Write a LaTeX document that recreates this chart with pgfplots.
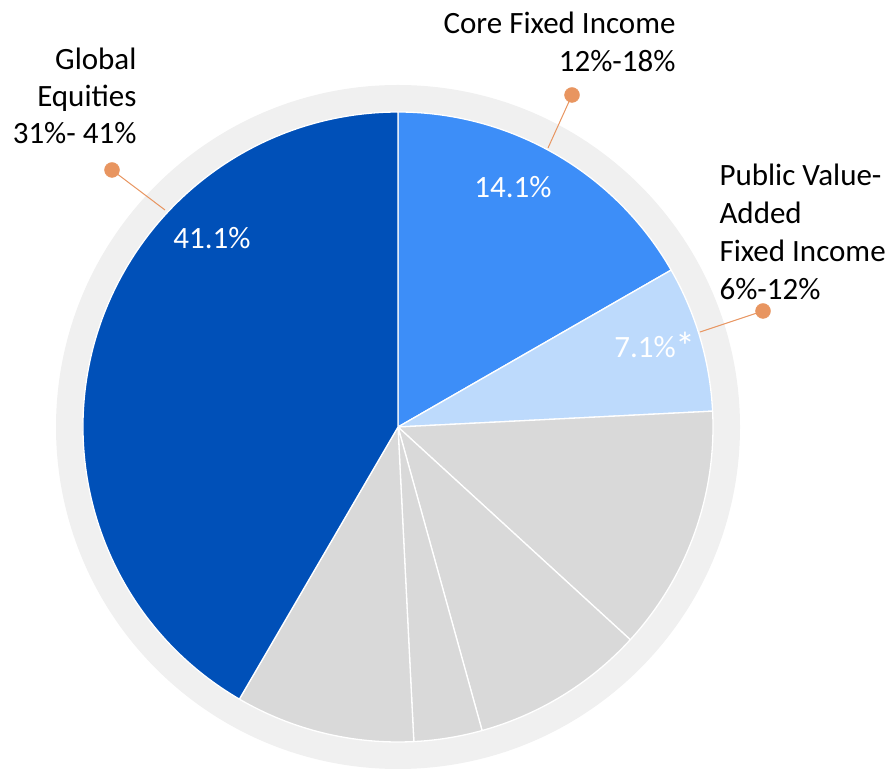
\documentclass[border=0pt]{standalone}
\usepackage{pgfplots}
\pgfplotsset{compat=1.18}
\usepackage{fontspec}
\setmainfont{Carlito}
\definecolor{darkblue}{RGB}{0,80,184}
\definecolor{coreblue}{RGB}{61,142,248}
\definecolor{paleblue}{RGB}{189,218,252}
\definecolor{slicegrey}{RGB}{217,217,217}
\definecolor{ringgrey}{RGB}{240,240,240}
\definecolor{leader}{RGB}{232,149,96}
\begin{document}
\begin{tikzpicture}
\begin{axis}[
  x=1pt, y=1pt,
  xmin=0, xmax=888, ymin=0, ymax=770,
  hide axis, clip=false,
]
% outer ring
\fill[ringgrey] (axis cs:398,343) circle[radius=342];
% pie slices (shares in percent, clockwise from the top)
\gdef\pieS{90}
\foreach \v/\c in {16.7/coreblue, 7.5/paleblue, 12.6/slicegrey, 8.9/slicegrey, 3.5/slicegrey, 9.2/slicegrey, 41.6/darkblue}{
  \pgfmathsetmacro\pieE{\pieS-3.6*\v}
  \edef\temp{\noexpand\fill[\c, draw=white, line width=1.3pt, line join=round]
    (axis cs:398,343) -- (axis cs:{398+315*cos(\pieS)},{343+315*sin(\pieS)})
    arc[start angle=\pieS, end angle=\pieE, radius=315] -- cycle;}
  \temp
  \global\let\pieS\pieE
}
% leader lines
\addplot[leader, line width=1pt, mark=none] coordinates {(165,560) (112,600)};
\addplot[leader, line width=1pt, mark=none] coordinates {(548,622) (572,675)};
\addplot[leader, line width=1pt, mark=none] coordinates {(700,438) (763,459)};
\addplot[only marks, mark=*, mark size=7.5pt, leader, mark options={draw=leader, fill=leader}]
  coordinates {(112,600) (572,675) (763,459)};
% slice labels
\begin{scope}[every node/.style={font=\fontsize{31}{37}\selectfont}]
\node[white, anchor=base] at (axis cs:212,521) {41.1\%};
\node[white, anchor=base] at (axis cs:513,572) {14.1\%};
\node[white, anchor=base] at (axis cs:655,412) {7.1\%\raisebox{-0.15ex}{\fontsize{40}{40}\selectfont *}};
% category labels
\node[anchor=base east] at (axis cs:140,700) {Global};
\node[anchor=base east] at (axis cs:140,663) {Equities};
\node[anchor=base east] at (axis cs:140,626) {31\%- 41\%};
\node[anchor=base east] at (axis cs:679,736) {Core Fixed Income};
\node[anchor=base east] at (axis cs:679,698) {12\%-18\%};
\node[anchor=base west] at (axis cs:716,584) {Public Value-};
\node[anchor=base west] at (axis cs:716,546) {Added};
\node[anchor=base west] at (axis cs:716,508) {Fixed Income};
\node[anchor=base west] at (axis cs:716,470) {6\%-12\%};
\end{scope}
\end{axis}
\pgfresetboundingbox
\path (current axis.south west) rectangle (current axis.north east);
\end{tikzpicture}
\end{document}
